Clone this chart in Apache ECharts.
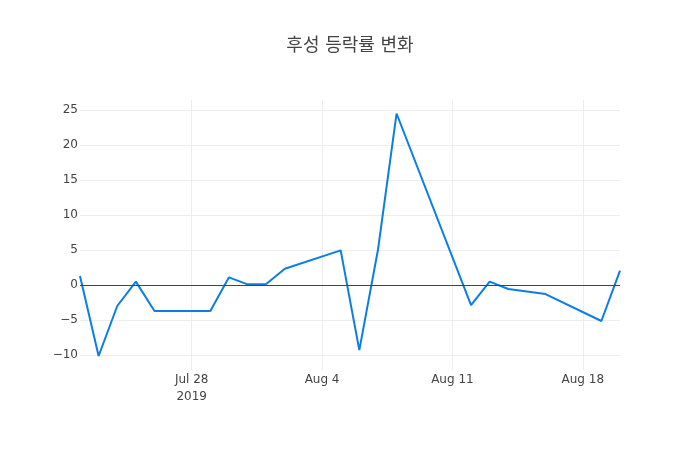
<!DOCTYPE html>
<html>
<head>
<meta charset="utf-8">
<script src="https://cdn.jsdelivr.net/npm/echarts@6/dist/echarts.min.js"></script>
<style>html,body{margin:0;padding:0;background:#fff}#c{width:700px;height:450px}</style>
</head>
<body>
<div id="c"></div>
<script>
const titleText = '후성 등락률 변화';
const dates = ['2019-07-22','2019-07-23','2019-07-24','2019-07-25','2019-07-26','2019-07-29','2019-07-30','2019-07-31','2019-08-01','2019-08-02','2019-08-05','2019-08-06','2019-08-07','2019-08-08','2019-08-12','2019-08-13','2019-08-14','2019-08-16','2019-08-19','2019-08-20'];
const changes = [1.29,-10.14,-3.0,0.48,-3.71,-3.71,1.1,0.1,0.14,2.33,4.95,-9.3,5.0,24.5,-2.86,0.48,-0.57,-1.29,-5.14,2.05];
const xTickDates = ['2019-07-28','2019-08-04','2019-08-11','2019-08-18'];
const xTickLabels = ['Jul 28\n2019','Aug 4','Aug 11','Aug 18'];
const yTicks = [-10,-5,0,5,10,15,20,25];
const xRange = ['2019-07-22','2019-08-20'];
const yRange = [-12.14,26.43];

const ts = d => new Date(d + 'T00:00:00Z').getTime();
const xTickTs = xTickDates.map(ts);
const labelMap = {};
xTickTs.forEach((t,i)=>labelMap[t]=xTickLabels[i]);

const chart = echarts.init(document.getElementById('c'), null, {renderer:'canvas'});
chart.setOption({
  animation:false,
  backgroundColor:'#fff',
  title:{text:titleText,left:'center',top:32,textStyle:{fontFamily:'"DejaVu Sans","Noto Sans CJK KR",sans-serif',fontSize:18,fontWeight:'normal',color:'#444'}},
  grid:{left:80,right:80,top:100,bottom:80},
  xAxis:{
    type:'value',
    min:ts(xRange[0]),max:ts(xRange[1]),
    axisLine:{show:false},
    axisTick:{show:false,customValues:xTickTs},
    splitLine:{show:true,lineStyle:{color:'#eee',width:1}},
    axisLabel:{customValues:xTickTs,formatter:v=>labelMap[v]||'',color:'#444',fontSize:12,fontFamily:'"DejaVu Sans",sans-serif',margin:1,lineHeight:17,hideOverlap:false}
  },
  yAxis:{
    type:'value',
    min:yRange[0],max:yRange[1],
    axisLine:{show:false},
    axisTick:{show:false,customValues:yTicks},
    splitLine:{show:true,lineStyle:{color:'#eee',width:1}},
    axisLabel:{customValues:yTicks,color:'#444',fontSize:12,fontFamily:'"DejaVu Sans",sans-serif',margin:2,padding:[3,0,0,0],formatter:v=>String(v).replace('-','\u2212')}
  },
  series:[{
    type:'line',
    data:dates.map((d,i)=>[ts(d),changes[i]]),
    showSymbol:false,
    lineStyle:{color:'#0a7ee6',width:2},
    itemStyle:{color:'#0a7ee6'},
    markLine:{silent:true,symbol:'none',label:{show:false},lineStyle:{color:'#444',width:1,type:'solid'},data:[{yAxis:0}]}
  }]
});
</script>
</body>
</html>
